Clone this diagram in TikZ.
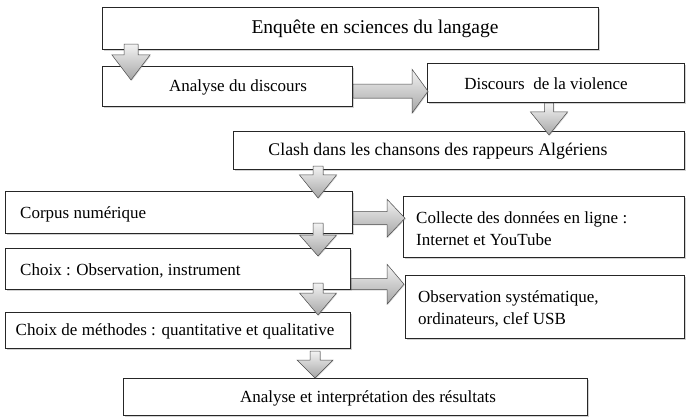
\documentclass[tikz,border=0pt]{standalone}
\usepackage{fontspec}
\setmainfont{Liberation Serif}
\usetikzlibrary{calc,shadows}
\tikzset{
  box/.style={draw=black!85, line width=1.2pt, fill=white, anchor=north west, inner sep=0pt,
    drop shadow={shadow xshift=1pt, shadow yshift=-1.2pt, opacity=0.35}},
  lbl/.style={font=\fontsize{17}{22}\selectfont, text=black, inner sep=0pt},
  blk/.style={draw=gray!60!black, line width=0.5pt, top color=gray!10, bottom color=gray!70,
    drop shadow={shadow xshift=0.8pt, shadow yshift=-0.8pt, opacity=0.3}}
}
% vertical block arrow: start, tip, shaft half width, head half width, head length
\newcommand\varr[5]{%
  \path[blk] let \p1=(#1), \p2=(#2) in
    (\x1-#3pt,\y1) -- (\x1+#3pt,\y1) -- (\x1+#3pt,\y2+#5pt) -- (\x1+#4pt,\y2+#5pt)
    -- (\x2,\y2) -- (\x1-#4pt,\y2+#5pt) -- (\x1-#3pt,\y2+#5pt) -- cycle;}
% horizontal block arrow
\newcommand\harr[5]{%
  \path[blk] let \p1=(#1), \p2=(#2) in
    (\x1,\y1+#3pt) -- (\x2-#5pt,\y1+#3pt) -- (\x2-#5pt,\y1+#4pt) -- (\x2,\y1)
    -- (\x2-#5pt,\y1-#4pt) -- (\x2-#5pt,\y1-#3pt) -- (\x1,\y1-#3pt) -- cycle;}
\begin{document}
\begin{tikzpicture}[x=1pt,y=-1pt]
\useasboundingbox[fill=white] (0,0) rectangle (686,417);
% boxes
\node[box, minimum width=496, minimum height=42] (b1) at (102,7) {};
\node[box, minimum width=250, minimum height=40] (b2) at (102,66) {};
\node[box, minimum width=257, minimum height=39] (b3) at (427,63) {};
\node[box, minimum width=451, minimum height=38] (b4) at (233,131) {};
\node[box, minimum width=347, minimum height=42] (b5) at (5,191) {};
\node[box, minimum width=345, minimum height=41] (b6) at (5,248) {};
\node[box, minimum width=345, minimum height=36] (b7) at (5,312) {};
\node[box, minimum width=464, minimum height=37] (b8) at (123,378) {};
\node[box, minimum width=281, minimum height=61] (b9) at (403,196) {};
\node[box, minimum width=279, minimum height=63] (b10) at (405,275) {};
% texts
\node[lbl, font=\fontsize{19.5}{22}\selectfont] (t1) at (375,29) {Enquête en sciences du langage};
\node[lbl] (t2) at (238,87) {Analyse du discours};
\node[lbl] (t3) at (546,84) {Discours\ \ de la violence};
\node[lbl, font=\fontsize{17.8}{22}\selectfont] (t4) at (438,151) {Clash dans les chansons des rappeurs Algériens};
\node[lbl, anchor=west] (t5) at (20,214) {Corpus numérique};
\node[lbl, anchor=west] (t6) at (20,271) {Choix : Observation, instrument};
\node[lbl] (t7) at (175,331) {Choix de méthodes : quantitative et qualitative};
\node[lbl] (t8) at (368,398) {Analyse et interprétation des résultats};
\node[lbl, anchor=west, align=left] (t9) at (416,229) {Collecte des données en ligne :\\Internet et YouTube};
\node[lbl, anchor=west, align=left] (t10) at (418,309) {Observation systématique,\\ordinateurs, clef USB};
% arrow end points
\coordinate (a1s) at ([shift={(29,-6)}]b1.south west);
\coordinate (a1e) at ([shift={(29,14)}]b2.north west);
\coordinate (a2s) at ([shift={(0,-16)}]b2.south east);
\coordinate (a2e) at ([shift={(1,-12)}]b3.south west);
\coordinate (a3s) at ([shift={(122,0)}]b3.south west);
\coordinate (a3e) at ([shift={(316,4)}]b4.north west);
\coordinate (a4s) at ([shift={(85,-4)}]b4.south west);
\coordinate (a4e) at ([shift={(313,7)}]b5.north west);
\coordinate (a5s) at ([shift={(313,-11)}]b5.south west);
\coordinate (a5e) at ([shift={(313,8)}]b6.north west);
\coordinate (a6s) at ([shift={(313,-7)}]b6.south west);
\coordinate (a6e) at ([shift={(313,3)}]b7.north west);
\coordinate (a7s) at ([shift={(310,2)}]b7.south west);
\coordinate (a7e) at ([shift={(192,0)}]b8.north west);
\coordinate (a8s) at ([shift={(0,-16)}]b5.south east);
\coordinate (a8e) at ([shift={(2,-40)}]b9.south west);
\coordinate (a9s) at ([shift={(0,-6)}]b6.south east);
\coordinate (a9e) at ([shift={(-1,8)}]b10.north west);
% block arrows
\varr{a1s}{a1e}{7}{19}{25}
\harr{a2s}{a2e}{7}{22}{16}
\varr{a3s}{a3e}{4.5}{18.5}{23}
\varr{a4s}{a4e}{5}{18.5}{23}
\varr{a5s}{a5e}{5}{18.5}{21}
\varr{a6s}{a6e}{5}{18.5}{22}
\varr{a7s}{a7e}{5}{18}{18}
\harr{a8s}{a8e}{6.5}{19}{18}
\harr{a9s}{a9e}{5.5}{20}{17}
\end{tikzpicture}
\end{document}
